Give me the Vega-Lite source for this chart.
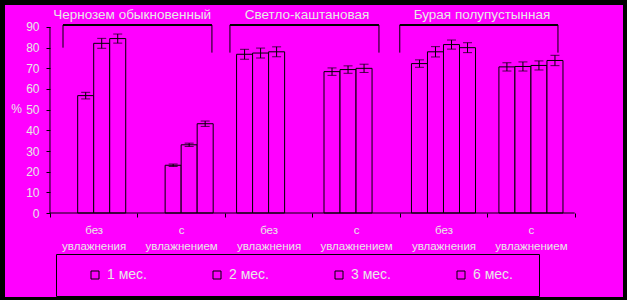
{
  "$schema": "https://vega.github.io/schema/vega-lite/v6.json",
  "width": 618,
  "height": 292,
  "autosize": {"type": "none"},
  "padding": {"left": 5, "top": 5, "right": 4, "bottom": 3},
  "background": "#000000",
  "config": {
    "font": "Liberation Sans",
    "view": {"fill": "#ff00ff", "stroke": null},
    "axis": {"grid": false}
  },
  "data": {
    "values": [
      {"cat": "1 без увлажнения", "s": "2 мес.", "v": 56.8, "lo": 55.2, "hi": 58.4},
      {"cat": "1 без увлажнения", "s": "3 мес.", "v": 82.1, "lo": 79.7, "hi": 84.5},
      {"cat": "1 без увлажнения", "s": "6 мес.", "v": 84.4, "lo": 82.2, "hi": 86.6},
      {"cat": "2 с увлажнением", "s": "2 мес.", "v": 23.1, "lo": 22.5, "hi": 23.7},
      {"cat": "2 с увлажнением", "s": "3 мес.", "v": 33.0, "lo": 32.2, "hi": 33.8},
      {"cat": "2 с увлажнением", "s": "6 мес.", "v": 43.2, "lo": 41.9, "hi": 44.5},
      {"cat": "3 без увлажнения", "s": "1 мес.", "v": 76.8, "lo": 74.4, "hi": 79.2},
      {"cat": "3 без увлажнения", "s": "2 мес.", "v": 77.4, "lo": 75.0, "hi": 79.8},
      {"cat": "3 без увлажнения", "s": "3 мес.", "v": 78.0, "lo": 75.6, "hi": 80.4},
      {"cat": "4 с увлажнением", "s": "1 мес.", "v": 68.4, "lo": 66.6, "hi": 70.2},
      {"cat": "4 с увлажнением", "s": "2 мес.", "v": 69.4, "lo": 67.6, "hi": 71.2},
      {"cat": "4 с увлажнением", "s": "3 мес.", "v": 70.0, "lo": 68.0, "hi": 72.0},
      {"cat": "5 без увлажнения", "s": "1 мес.", "v": 72.3, "lo": 70.5, "hi": 74.1},
      {"cat": "5 без увлажнения", "s": "2 мес.", "v": 78.0, "lo": 75.5, "hi": 80.5},
      {"cat": "5 без увлажнения", "s": "3 мес.", "v": 81.5, "lo": 79.3, "hi": 83.7},
      {"cat": "5 без увлажнения", "s": "6 мес.", "v": 80.0, "lo": 77.6, "hi": 82.4},
      {"cat": "6 с увлажнением", "s": "1 мес.", "v": 70.7, "lo": 68.7, "hi": 72.7},
      {"cat": "6 с увлажнением", "s": "2 мес.", "v": 70.9, "lo": 68.7, "hi": 73.1},
      {"cat": "6 с увлажнением", "s": "3 мес.", "v": 71.4, "lo": 69.2, "hi": 73.6},
      {"cat": "6 с увлажнением", "s": "6 мес.", "v": 73.8, "lo": 71.3, "hi": 76.3}
    ]
  },
  "layer": [
    {
      "mark": {"type": "bar", "stroke": "black", "strokeWidth": 1},
      "encoding": {
        "x": {
          "field": "cat", "type": "nominal", "title": null,
          "scale": {
            "domain": ["1 без увлажнения", "2 с увлажнением", "3 без увлажнения", "4 с увлажнением", "5 без увлажнения", "6 с увлажнением"],
            "paddingInner": 0, "paddingOuter": 0.5335, "align": 0.482
          },
          "axis": {
            "title": null, "orient": "bottom", "offset": -84, "domain": false,
            "tickBand": "extent", "tickSize": 4, "tickColor": "black",
            "labelColor": "#e8e8e8", "labelFontSize": 11.5, "labelAngle": 0,
            "labelPadding": 7, "labelBaseline": "top", "labelLineHeight": 16,
            "labelOverlap": false,
            "labelExpr": "split(slice(datum.label, 2), ' ')"
          }
        },
        "xOffset": {
          "field": "s", "type": "nominal",
          "scale": {"domain": ["1 мес.", "2 мес.", "3 мес.", "6 мес."], "paddingInner": 0, "paddingOuter": 0.73}
        },
        "y": {
          "field": "v", "type": "quantitative", "title": "%",
          "scale": {"domain": [-40.645, 100.645], "nice": false, "zero": false},
          "axis": {
            "title": "%", "orient": "left", "offset": -45, "domain": false,
            "values": [0, 10, 20, 30, 40, 50, 60, 70, 80, 90],
            "labelOverlap": false,
            "tickSize": 4, "tickColor": "black",
            "labelColor": "#e8e8e8", "labelFontSize": 12, "labelPadding": 7,
            "titleAngle": 0, "titleX": -34, "titleY": 103, "titleAlign": "center",
            "titleBaseline": "middle", "titleColor": "#e8e8e8", "titleFontSize": 12,
            "titleFontWeight": "normal"
          }
        },
        "y2": {"datum": 0},
        "fill": {
          "field": "s", "type": "nominal",
          "scale": {"domain": ["1 мес.", "2 мес.", "3 мес.", "6 мес."], "range": ["#ff00ff", "#ff00ff", "#ff00ff", "#ff00ff"]},
          "legend": {
            "orient": "none", "legendX": 51, "legendY": 249, "direction": "horizontal",
            "title": " ", "titleOrient": "left", "titleFontSize": 14, "titlePadding": 18,
            "padding": 14, "strokeColor": "black", "fillColor": "#ff00ff",
            "symbolType": "square", "symbolSize": 64, "symbolStrokeColor": "black",
            "symbolStrokeWidth": 1, "symbolFillColor": "#ff00ff",
            "labelFontSize": 14, "labelColor": "#e8e8e8", "labelOffset": 5,
            "columnPadding": 51, "labelExpr": "datum.label + '\u00a0\u00a0\u00a0\u200b'"
          }
        }
      }
    },
    {
      "mark": {"type": "rule", "color": "black", "strokeWidth": 1},
      "encoding": {
        "x": {"field": "cat", "type": "nominal", "title": null},
        "xOffset": {"field": "s", "type": "nominal"},
        "y": {"field": "lo", "type": "quantitative", "title": "%", "axis": {"values": [0, 10, 20, 30, 40, 50, 60, 70, 80, 90]}},
        "y2": {"field": "hi"}
      }
    },
    {
      "mark": {"type": "tick", "orient": "horizontal", "size": 9, "thickness": 1, "color": "black"},
      "encoding": {
        "x": {"field": "cat", "type": "nominal", "title": null},
        "xOffset": {"field": "s", "type": "nominal"},
        "y": {"field": "lo", "type": "quantitative", "title": "%", "axis": {"values": [0, 10, 20, 30, 40, 50, 60, 70, 80, 90]}}
      }
    },
    {
      "mark": {"type": "tick", "orient": "horizontal", "size": 9, "thickness": 1, "color": "black"},
      "encoding": {
        "x": {"field": "cat", "type": "nominal", "title": null},
        "xOffset": {"field": "s", "type": "nominal"},
        "y": {"field": "hi", "type": "quantitative", "title": "%", "axis": {"values": [0, 10, 20, 30, 40, 50, 60, 70, 80, 90]}}
      }
    },
    {
      "data": {"values": [{}]},
      "mark": {"type": "rule", "color": "black", "strokeWidth": 1},
      "encoding": {
        "x": {"datum": "1 без увлажнения", "type": "nominal", "bandPosition": 0},
        "y": {"datum": 0, "type": "quantitative", "axis": {"values": [0, 10, 20, 30, 40, 50, 60, 70, 80, 90]}},
        "y2": {"datum": 90}
      }
    },
    {
      "data": {"values": [{}]},
      "mark": {"type": "rule", "color": "black", "strokeWidth": 1},
      "encoding": {
        "x": {"datum": "1 без увлажнения", "type": "nominal", "bandPosition": 0},
        "x2": {"datum": "6 с увлажнением", "bandPosition": 1},
        "y": {"datum": 0, "type": "quantitative", "axis": {"values": [0, 10, 20, 30, 40, 50, 60, 70, 80, 90]}}
      }
    },
    {
      "data": {"values": [{}]},
      "mark": {"type": "rule", "color": "black", "strokeWidth": 2},
      "encoding": {
        "x": {"datum": "1 без увлажнения", "type": "nominal", "bandPosition": 0.149},
        "x2": {"datum": "2 с увлажнением", "bandPosition": 0.852},
        "y": {"datum": 91, "type": "quantitative", "axis": {"values": [0, 10, 20, 30, 40, 50, 60, 70, 80, 90]}}
      }
    },
    {
      "data": {"values": [{}]},
      "mark": {"type": "rule", "color": "black", "strokeWidth": 1},
      "encoding": {
        "x": {"datum": "1 без увлажнения", "type": "nominal", "bandPosition": 0.149},
        "y": {"datum": 91, "type": "quantitative", "axis": {"values": [0, 10, 20, 30, 40, 50, 60, 70, 80, 90]}},
        "y2": {"datum": 80.0}
      }
    },
    {
      "data": {"values": [{}]},
      "mark": {"type": "rule", "color": "black", "strokeWidth": 1},
      "encoding": {
        "x": {"datum": "2 с увлажнением", "type": "nominal", "bandPosition": 0.852},
        "y": {"datum": 91, "type": "quantitative", "axis": {"values": [0, 10, 20, 30, 40, 50, 60, 70, 80, 90]}},
        "y2": {"datum": 77.6}
      }
    },
    {
      "data": {"values": [{}]},
      "mark": {"type": "rule", "color": "black", "strokeWidth": 2},
      "encoding": {
        "x": {"datum": "3 без увлажнения", "type": "nominal", "bandPosition": 0.058},
        "x2": {"datum": "4 с увлажнением", "bandPosition": 0.762},
        "y": {"datum": 91, "type": "quantitative", "axis": {"values": [0, 10, 20, 30, 40, 50, 60, 70, 80, 90]}}
      }
    },
    {
      "data": {"values": [{}]},
      "mark": {"type": "rule", "color": "black", "strokeWidth": 1},
      "encoding": {
        "x": {"datum": "3 без увлажнения", "type": "nominal", "bandPosition": 0.058},
        "y": {"datum": 91, "type": "quantitative", "axis": {"values": [0, 10, 20, 30, 40, 50, 60, 70, 80, 90]}},
        "y2": {"datum": 77.6}
      }
    },
    {
      "data": {"values": [{}]},
      "mark": {"type": "rule", "color": "black", "strokeWidth": 1},
      "encoding": {
        "x": {"datum": "4 с увлажнением", "type": "nominal", "bandPosition": 0.762},
        "y": {"datum": 91, "type": "quantitative", "axis": {"values": [0, 10, 20, 30, 40, 50, 60, 70, 80, 90]}},
        "y2": {"datum": 77.6}
      }
    },
    {
      "data": {"values": [{}]},
      "mark": {"type": "rule", "color": "black", "strokeWidth": 2},
      "encoding": {
        "x": {"datum": "5 без увлажнения", "type": "nominal", "bandPosition": 0},
        "x2": {"datum": "6 с увлажнением", "bandPosition": 0.809},
        "y": {"datum": 91, "type": "quantitative", "axis": {"values": [0, 10, 20, 30, 40, 50, 60, 70, 80, 90]}}
      }
    },
    {
      "data": {"values": [{}]},
      "mark": {"type": "rule", "color": "black", "strokeWidth": 1},
      "encoding": {
        "x": {"datum": "5 без увлажнения", "type": "nominal", "bandPosition": 0},
        "y": {"datum": 91, "type": "quantitative", "axis": {"values": [0, 10, 20, 30, 40, 50, 60, 70, 80, 90]}},
        "y2": {"datum": 77.6}
      }
    },
    {
      "data": {"values": [{}]},
      "mark": {"type": "rule", "color": "black", "strokeWidth": 1},
      "encoding": {
        "x": {"datum": "6 с увлажнением", "type": "nominal", "bandPosition": 0.809},
        "y": {"datum": 91, "type": "quantitative", "axis": {"values": [0, 10, 20, 30, 40, 50, 60, 70, 80, 90]}},
        "y2": {"datum": 77.6}
      }
    },
    {
      "data": {
        "values": [
          {"cat": "1 без увлажнения", "g": "Чернозем обыкновенный"},
          {"cat": "3 без увлажнения", "g": "Светло-каштановая"},
          {"cat": "5 без увлажнения", "g": "Бурая полупустынная"}
        ]
      },
      "mark": {"type": "text", "fontSize": 13.5, "color": "#e8e8e8", "baseline": "middle", "align": "center"},
      "encoding": {
        "x": {"field": "cat", "type": "nominal", "bandPosition": 0.94, "title": null},
        "y": {"datum": 95.8, "type": "quantitative", "axis": {"values": [0, 10, 20, 30, 40, 50, 60, 70, 80, 90]}},
        "text": {"field": "g"}
      }
    }
  ]
}
